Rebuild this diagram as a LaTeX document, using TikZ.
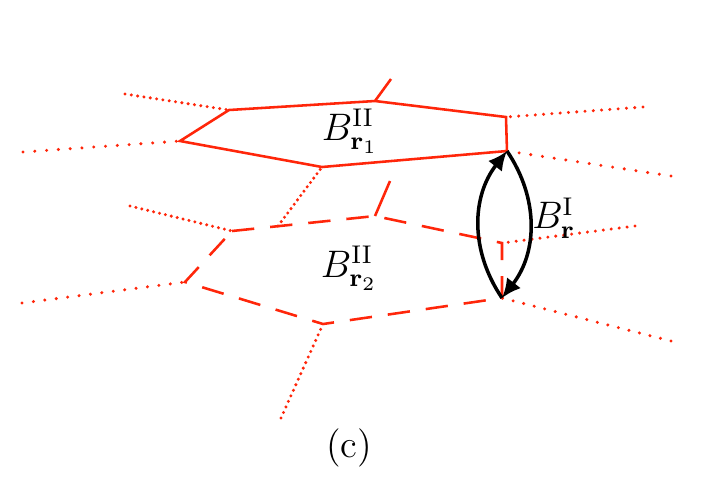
\documentclass[tikz,border=0pt]{standalone}
\usepackage{amsmath,amssymb}
\usetikzlibrary{arrows.meta}
\definecolor{bondred}{RGB}{255,38,10}
\tikzset{
  bond/.style={draw=bondred, line width=0.8pt},
  bondhalf/.style={bond, dash pattern=on 7pt off 5pt},
  leg/.style={draw=bondred, line width=1.05pt, line cap=round, dash pattern=on 0pt off #1},
  leg/.default=3.6pt,
  hop/.style={draw=black, line width=1.1pt, -{Latex[length=6pt,width=5.5pt]}, bend left=36},
}

\begin{document}
\begin{tikzpicture}[x=0.011cm, y=-0.011cm, font=\large]
\useasboundingbox (0,0) rectangle (706,484);
% upper plaquette
\coordinate (a1) at (229,110); \coordinate (a2) at (375,101); \coordinate (a3) at (506,117);
\coordinate (a4) at (507,151); \coordinate (a5) at (322,167); \coordinate (a6) at (180,141);
% lower plaquette
\coordinate (b1) at (232,231); \coordinate (b2) at (375,216); \coordinate (b3) at (502,243);
\coordinate (b4) at (502,298); \coordinate (b5) at (323,324); \coordinate (b6) at (185,282);
% dotted legs
\draw[leg=2pt] (125,94) -- (a1); \draw[leg=3.7pt] (23,152) -- (a6);
\draw[leg=2.6pt] (643,107) -- (a3); \draw[leg=3.7pt] (671,176) -- (a4);
\draw[leg=1.7pt] (278,226) -- (a5);
\draw[leg=1.9pt] (130,206) -- (b1); \draw[leg=3.6pt] (22,303) -- (b6);
\draw[leg=2.5pt] (635,226) -- (b3); \draw[leg=3.4pt] (671,341) -- (b4);
\draw[leg=1.9pt] (281,418) -- (b5);
% plaquettes
\draw[bond] (a1) -- (a2) -- (a3) -- (a4) -- (a5) -- (a6) -- cycle;
\draw[bond] (a2) -- (391,79);
\draw[bondhalf] (b1) -- (b2) -- (b3) -- (b4) -- (b5) -- (b6) -- cycle;
\draw[bond] (b2) -- (390,181);
% labels
\node (p1) at (350,131) {$B^{\mathrm{II}}_{\mathbf{r}_1}$};
\node (p2) at (349,268) {$B^{\mathrm{II}}_{\mathbf{r}_2}$};
\node[right] (q) at (521,218) {$B^{\mathrm{I}}_{\mathbf{r}}$};
% hopping arrows
\draw[hop] (b4) to (a4);
\draw[hop] (a4) to (b4);
\node (cap) at (349,448) {(c)};
\end{tikzpicture}
\end{document}
